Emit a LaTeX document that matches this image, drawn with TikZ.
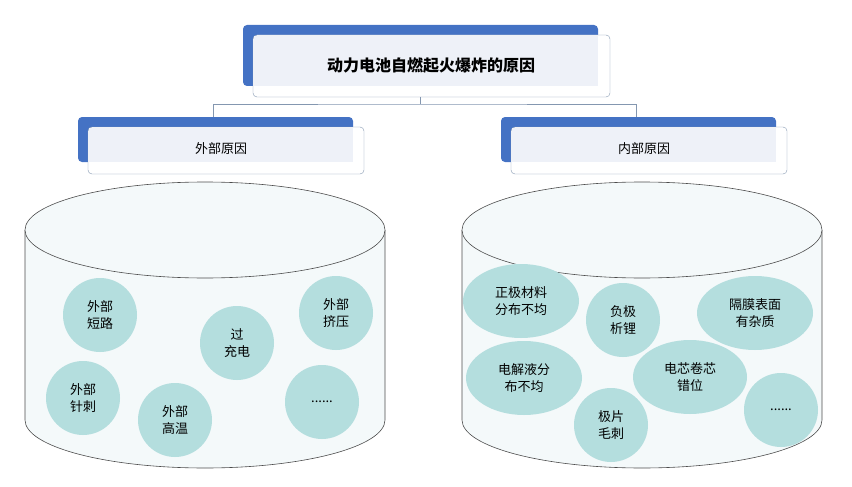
\documentclass[tikz,border=0pt]{standalone}
\usepackage{fontspec}
\setmainfont{Noto Sans CJK SC}
\usetikzlibrary{positioning, shapes.geometric, calc}
\definecolor{hdblue}{HTML}{4472C4}
\definecolor{hdfill}{HTML}{EEF1F8}
\definecolor{hdline}{HTML}{8497B0}
\definecolor{cylfill}{HTML}{F4F9FA}
\definecolor{bubble}{HTML}{B4DEDE}

\begin{document}
\begin{tikzpicture}[
        x=1pt, y=-1pt,
        bubblenode/.style={ellipse, fill=bubble, inner sep=0pt, font=\fontsize{13}{17}\selectfont, align=center},
        cylline/.style={draw=black!70, line width=0.6pt}
    ]
    \useasboundingbox (0,0) rectangle (852,487);

    % header boxes
    \fill[hdblue, rounded corners=4pt] (243,25) rectangle (598,86);
    \draw[hdline, fill=white, rounded corners=4pt] (253,35) rectangle (610,97);
    \fill[hdfill] (254,36) rectangle (598,86);
    \node[font=\fontsize{16}{18}\selectfont\bfseries] (title) at (431,66) {动力电池自燃起火爆炸的原因};
    \coordinate (tbot) at (420,97);

    \foreach \nm/\xa/\lbl in {outer/78/外部原因, inner/501/内部原因} {
        \fill[hdblue, rounded corners=4pt] (\xa,117) rectangle ++(275,45);
        \draw[hdline, fill=white, rounded corners=4pt] (\xa+10,127) rectangle ++(276,47);
        \fill[hdfill] (\xa+11,128) rectangle ++(264,34);
        \node[font=\fontsize{13}{15}\selectfont] (\nm) at (\xa+143,149) {\lbl};
        \coordinate (\nm-top) at (\xa+135,117);
    }
    \draw[hdline] (tbot) -- ++(0,7) coordinate (mid);
    \draw[hdline] (outer-top) |- (mid) -| (inner-top);

    % cylinders
    \foreach \cx in {205,642} {
        \draw[cylline, fill=cylfill] (\cx-180,230) -- (\cx-180,420) arc[start angle=180, end angle=0, x radius=180, y radius=48] -- (\cx+180,230);
        \draw[cylline, fill=cylfill] (\cx,230) ellipse[x radius=180, y radius=48];
    }

    % outer causes
    \node[bubblenode, minimum width=74, minimum height=74] (shortc) at (100,315) {外部\\短路};
    \node[bubblenode, minimum width=74, minimum height=74] (overch) at (237,343) {过\\充电};
    \node[bubblenode, minimum width=74, minimum height=74] (squeeze) at (336,313) {外部\\挤压};
    \node[bubblenode, minimum width=74, minimum height=74] (pierce) at (83,398) {外部\\针刺};
    \node[bubblenode, minimum width=74, minimum height=74] (heat) at (175,420) {外部\\高温};
    \node[bubblenode, minimum width=74, minimum height=74] (odots) at (322,402) {......};

    % inner causes
    \node[bubblenode, minimum width=116, minimum height=74] (cathode) at (521,301) {正极材料\\分布不均};
    \node[bubblenode, minimum width=74, minimum height=74] (lithium) at (623,320) {负极\\析锂};
    \node[bubblenode, minimum width=116, minimum height=74] (separator) at (755,313) {隔膜表面\\有杂质};
    \node[bubblenode, minimum width=116, minimum height=74] (electrolyte) at (524,378) {电解液分\\布不均};
    \node[bubblenode, minimum width=114, minimum height=74] (winding) at (690,377) {电芯卷芯\\错位};
    \node[bubblenode, minimum width=74, minimum height=74] (burr) at (611,425) {极片\\毛刺};
    \node[bubblenode, minimum width=74, minimum height=74] (idots) at (781,410) {......};
\end{tikzpicture}
\end{document}
